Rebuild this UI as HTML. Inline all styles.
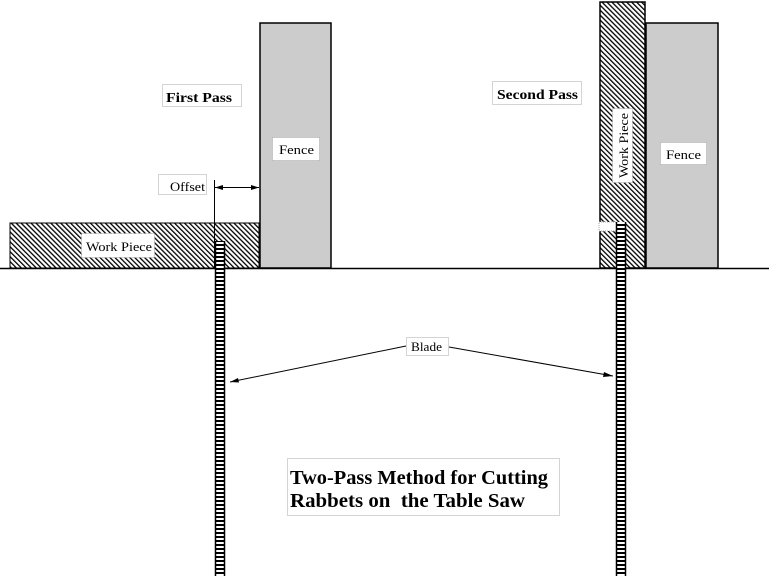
<!DOCTYPE html>
<html><head><meta charset="utf-8"><style>
html,body{margin:0;padding:0;background:#fff;}
svg{display:block;}
text{font-family:"Liberation Serif",serif;}
</style></head><body>
<svg width="769" height="576" viewBox="0 0 769 576" xmlns="http://www.w3.org/2000/svg">
<defs>
<pattern id="hatch" width="3.5" height="3.5" patternUnits="userSpaceOnUse" patternTransform="rotate(-45)">
<rect width="3.5" height="3.5" fill="#fff"/><rect width="1.3" height="3.5" fill="#000"/>
</pattern>
<pattern id="blade" width="10" height="4" patternUnits="userSpaceOnUse">
<rect width="10" height="4" fill="#fff"/><rect width="10" height="2" fill="#000"/>
</pattern>
</defs>
<rect x="260" y="23" width="71" height="245" fill="#cccccc" stroke="#000" stroke-width="1.5"/>
<rect x="646" y="23" width="72" height="245" fill="#cccccc" stroke="#000" stroke-width="1.5"/>
<rect x="10" y="223" width="249" height="45" fill="url(#hatch)" stroke="#000" stroke-width="1"/>
<rect x="600" y="2" width="45" height="266" fill="url(#hatch)" stroke="#000" stroke-width="1.5"/>
<rect x="599" y="222" width="18" height="9" fill="#fff"/>
<rect x="599" y="222" width="18" height="9" fill="none" stroke="#aaa" stroke-width="1" stroke-dasharray="1,1"/>
<line x1="0" y1="268.5" x2="769" y2="268.5" stroke="#000" stroke-width="1.5"/>
<rect x="215" y="241" width="10" height="335" fill="url(#blade)"/>
<line x1="215.5" y1="241" x2="215.5" y2="576" stroke="#000" stroke-width="1.5"/>
<line x1="224.5" y1="241" x2="224.5" y2="576" stroke="#000" stroke-width="1.5"/>
<rect x="616" y="222" width="10" height="354" fill="url(#blade)"/>
<line x1="616.5" y1="222" x2="616.5" y2="576" stroke="#000" stroke-width="1.5"/>
<line x1="625.5" y1="222" x2="625.5" y2="576" stroke="#000" stroke-width="1.5"/>
<line x1="214.5" y1="180" x2="214.5" y2="268" stroke="#000" stroke-width="1"/>
<line x1="215" y1="187.5" x2="259" y2="187.5" stroke="#000" stroke-width="1"/>
<polygon points="215,187.5 223,185 223,190" fill="#000"/>
<polygon points="259,187.5 251,185 251,190" fill="#000"/>
<line x1="406" y1="346" x2="230" y2="382" stroke="#000" stroke-width="1"/>
<polygon points="230,382 238,378 239,382.5" fill="#000"/>
<line x1="449" y1="347" x2="613" y2="376" stroke="#000" stroke-width="1"/>
<polygon points="613,376 604,372 603,377" fill="#000"/>
<g stroke="#aaa" stroke-width="1" stroke-dasharray="1,1" fill="#fff">
<rect x="162.5" y="84.5" width="79" height="22"/>
<rect x="272.5" y="137.5" width="47" height="23"/>
<rect x="158.5" y="174.5" width="48" height="20"/>
<rect x="81.5" y="233.5" width="73" height="24"/>
<rect x="492.5" y="81.5" width="89" height="23"/>
<rect x="612.5" y="108.5" width="20" height="74"/>
<rect x="660.5" y="142.5" width="46" height="22"/>
<rect x="406.5" y="337.5" width="42" height="18"/>
<rect x="287.5" y="458.5" width="272" height="57"/>
</g>
<text x="166" y="102" font-size="14" font-weight="bold" textLength="66" lengthAdjust="spacingAndGlyphs">First Pass</text>
<text x="497" y="99" font-size="14" font-weight="bold" textLength="81" lengthAdjust="spacingAndGlyphs">Second Pass</text>
<text x="279" y="154" font-size="13" textLength="35" lengthAdjust="spacingAndGlyphs">Fence</text>
<text x="666" y="159" font-size="13" textLength="35" lengthAdjust="spacingAndGlyphs">Fence</text>
<text x="170" y="191" font-size="13" textLength="35" lengthAdjust="spacingAndGlyphs">Offset</text>
<text x="86" y="251" font-size="13" textLength="66" lengthAdjust="spacingAndGlyphs">Work Piece</text>
<text x="411" y="351" font-size="13" textLength="31" lengthAdjust="spacingAndGlyphs">Blade</text>
<text x="0" y="0" font-size="13" transform="translate(628,178) rotate(-90)" textLength="65" lengthAdjust="spacingAndGlyphs">Work Piece</text>
<text x="290" y="484" font-size="20" font-weight="bold" textLength="258" lengthAdjust="spacingAndGlyphs">Two-Pass Method for Cutting</text>
<text x="290" y="507" font-size="20" font-weight="bold" xml:space="preserve" textLength="235" lengthAdjust="spacingAndGlyphs">Rabbets on  the Table Saw</text>
</svg>
</body></html>
